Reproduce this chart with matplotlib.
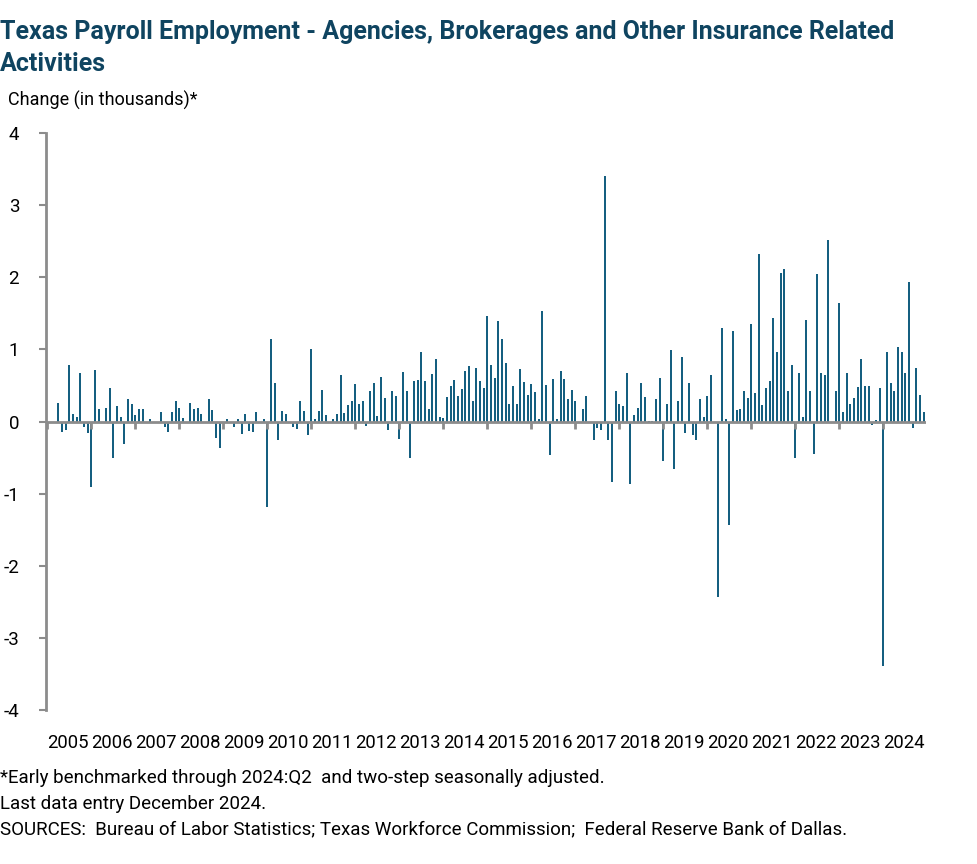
import numpy as np
import matplotlib.pyplot as plt

# Шрифт: поуже, чем DejaVu
plt.rcParams['font.family'] = ['Roboto', 'DejaVu Sans']
plt.rcParams['axes.unicode_minus'] = False

# Годы на оси
years = [str(y) for y in range(2005, 2025)]

# Помесячные изменения, тыс. (янв 2005 - дек 2024), по годам
v2005 = [0, 0, 0, 0.26, -0.15, -0.11, 0.79, 0.11, 0.07, 0.67, -0.08, -0.16]
v2006 = [-0.90, 0.71, 0.18, 0, 0.19, 0.46, -0.50, 0.21, 0.07, -0.31, 0.31, 0.24]
v2007 = [0.09, 0.18, 0.17, 0, 0.03, 0, 0, 0.14, -0.08, -0.14, 0.13, 0.28]
v2008 = [0.19, 0.05, 0, 0.26, 0.18, 0.19, 0.10, 0, 0.32, 0.16, -0.22, -0.36]
v2009 = [0, 0.04, 0, -0.08, 0.04, -0.17, 0.11, -0.125, -0.15, 0.14, 0, 0.04]
v2010 = [-1.19, 1.15, 0.53, -0.26, 0.15, 0.10, 0, -0.07, -0.10, 0.28, 0.15, -0.18]
v2011 = [1.00, 0.04, 0.15, 0.44, 0.09, 0, 0.04, 0.11, 0.64, 0.12, 0.23, 0.28]
v2012 = [0.52, 0.25, 0.29, -0.055, 0.43, 0.53, 0.08, 0.62, 0.33, -0.11, 0.43, 0.36]
v2013 = [-0.245, 0.69, 0.43, -0.51, 0.56, 0.58, 0.96, 0.56, 0.18, 0.66, 0.87, 0.07]
v2014 = [0.045, 0.34, 0.49, 0.58, 0.35, 0.45, 0.70, 0.77, 0.29, 0.74, 0.56, 0.47]
v2015 = [1.47, 0.79, 0.61, 1.39, 1.14, 0.81, 0.25, 0.50, 0.24, 0.73, 0.55, 0.37]
v2016 = [0.52, 0.41, 0.04, 1.53, 0.51, -0.46, 0.59, 0.04, 0.70, 0.59, 0.31, 0.44]
v2017 = [0.28, 0, 0.17, 0.35, 0, -0.26, -0.09, -0.12, 3.40, -0.25, -0.84, 0.42]
v2018 = [0.25, 0.22, 0.67, -0.87, 0.09, 0.19, 0.53, 0.34, 0.01, 0.01, 0.32, 0.61]
v2019 = [-0.54, 0.24, 0.99, -0.66, 0.28, 0.90, -0.16, 0.54, -0.19, -0.25, 0.31, 0.07]
v2020 = [0.36, 0.64, 0, -2.43, 1.30, 0.03, -1.43, 1.25, 0.16, 0.18, 0.43, 0.33]
v2021 = [1.35, 0.40, 2.33, 0.23, 0.46, 0.57, 1.43, 0.96, 2.06, 2.11, 0.42, 0.78]
v2022 = [-0.50, 0.67, 0.06, 1.41, 0.42, -0.45, 2.04, 0.68, 0.64, 2.52, 0, 0.42]
v2023 = [1.65, 0.13, 0.68, 0.25, 0.33, 0.48, 0.875, 0.49, 0.50, -0.05, 0.02, 0.47]
v2024 = [-3.39, 0.96, 0.54, 0.43, 1.04, 0.96, 0.67, 1.94, -0.09, 0.75, 0.375, 0.14]

values = np.array(v2005 + v2006 + v2007 + v2008 + v2009 + v2010 + v2011 + v2012 + v2013 + v2014
                  + v2015 + v2016 + v2017 + v2018 + v2019 + v2020 + v2021 + v2022 + v2023 + v2024)
months = np.arange(len(values))

bar_color = '#155f80'
axis_color = '#8c8c8c'
title_color = '#0f4460'

fig = plt.figure(figsize=(9.77, 8.64), dpi=100)
ax = fig.add_axes([0.0466, 0.178, 0.9007, 0.668])

ax.bar(months, values, width=0.62, color=bar_color, zorder=2)

# Нулевая линия и засечки по январям
ax.axhline(0, color=axis_color, lw=2, zorder=3)
ax.vlines(months[::12], -0.1, 0, color=axis_color, lw=2, zorder=3)

ax.set_xlim(-0.5, len(values) - 0.5)
ax.set_ylim(-4, 4)
ax.set_yticks(range(-4, 5))
ax.set_xticks(months[::12] + 5.5)
ax.set_xticklabels(years, fontsize=13.3)
ax.tick_params(axis='x', length=0, pad=17)
ax.tick_params(axis='y', length=5, width=1.5, color=axis_color, labelsize=13.5, pad=14)

for s in ['top', 'right', 'bottom']:
    ax.spines[s].set_visible(False)
ax.spines['left'].set_color(axis_color)
ax.spines['left'].set_linewidth(2)

fig.text(0.0, 0.977, 'Texas Payroll Employment - Agencies, Brokerages and Other Insurance Related\nActivities',
         fontsize=18, fontweight='bold', color=title_color, va='top', ha='left', linespacing=1.42)
fig.text(0.008, 0.884, 'Change (in thousands)*', fontsize=13, va='center', ha='left')

fig.text(0.0, 0.099, '*Early benchmarked through 2024:Q2  and two-step seasonally adjusted.', fontsize=13.5, va='center')
fig.text(0.0, 0.070, 'Last data entry December 2024.', fontsize=13.5, va='center')
fig.text(0.0, 0.040, 'SOURCES:  Bureau of Labor Statistics; Texas Workforce Commission;  Federal Reserve Bank of Dallas.',
         fontsize=13.5, va='center')

fig.savefig('out.png', dpi=100)
